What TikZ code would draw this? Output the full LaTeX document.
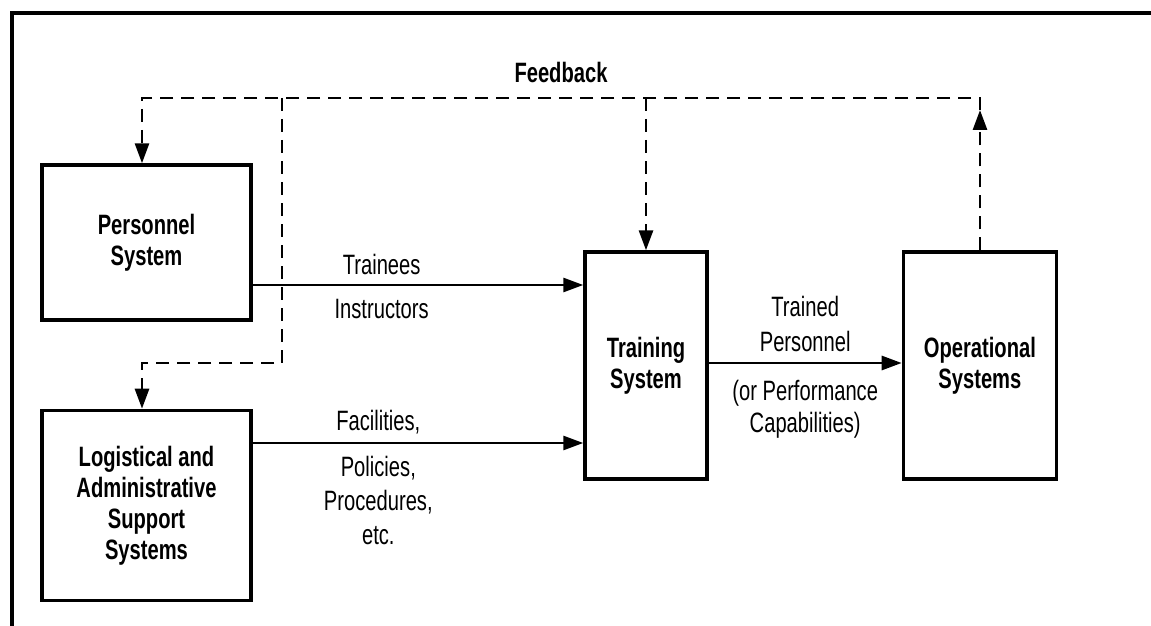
\documentclass[tikz,border=0pt]{standalone}
\usepackage{fontspec}
\setmainfont{Liberation Sans}[FakeStretch=0.72]
\usetikzlibrary{positioning, arrows.meta}

\begin{document}
\begin{tikzpicture}[
            x=0.5pt, y=-0.5pt,
            every node/.style = {
                align=center, inner sep=0pt,
                font=\fontsize{14}{15.5}\selectfont
            }
        ]
        \tikzstyle{sysbox}=[draw, line width=1.7pt, font=\bfseries\fontsize{14}{15.5}\selectfont]
        \tikzstyle{flow}=[line width=1.4pt, -{Triangle[length=10pt, width=7pt]}]
        \tikzstyle{fb}=[line width=1.4pt, dash pattern=on 6.5pt off 4pt]
        \tikzstyle{fbarrow}=[fb, -{Triangle[length=10pt, width=7pt]}]

        \useasboundingbox (0,0) rectangle (1151,626);
        \draw[line width=2pt] (12,626) -- (12,13) -- (1151,13);

        \node[sysbox, minimum width=104.5pt, minimum height=77.5pt] (pers) at (146.5,242.5) {Personnel\\System};
        \node[sysbox, minimum width=104.5pt, minimum height=95pt] (logi) [below=43.5pt of pers] {Logistical and\\Administrative\\Support\\Systems};
        \node[sysbox, minimum width=61pt, minimum height=113.5pt] (train) at (646,365.5) {Training\\System};
        \node[sysbox, minimum width=76.5pt, minimum height=113.5pt] (ops) [right=96.5pt of train] {Operational\\Systems};

        \draw[flow] (pers.east |- 0,285) --
            node[pos=0.39, above=4.5pt] {Trainees}
            node[pos=0.39, below=6.5pt] {Instructors} (train.west |- 0,285);
        \draw[flow] (logi.east |- 0,443) --
            node[pos=0.38, above=4pt] {Facilities,}
            node[pos=0.38, below=6pt, font=\fontsize{14}{17}\selectfont] {Policies,\\Procedures,\\etc.} (train.west |- 0,443);
        \draw[flow] (train.east |- 0,363) --
            node[above=5pt, font=\fontsize{14}{17.5}\selectfont] {Trained\\Personnel}
            node[below=8pt, font=\fontsize{14}{16}\selectfont] {(or Performance\\Capabilities)} (ops.west |- 0,363);

        \coordinate (fbleft) at (142,98);
        \coordinate (fbright) at (980,98);
        \coordinate (fbsplit) at (282,98);
        \coordinate (fbturn) at (282,363);

        \draw[fbarrow] (ops.north -| fbright) -- ([yshift=-6pt]fbright);
        \draw[fbarrow] ([yshift=-6pt]fbright) -- (fbright) --
            node[above=7pt, font=\bfseries\fontsize{14}{15.5}\selectfont] {Feedback}
            (fbleft) -- (fbleft |- pers.north);
        \draw[fbarrow] (train.north |- fbleft) -- (train.north);
        \draw[fbarrow] (fbsplit) -- (fbturn) -| (fbleft |- logi.north);
\end{tikzpicture}
\end{document}
